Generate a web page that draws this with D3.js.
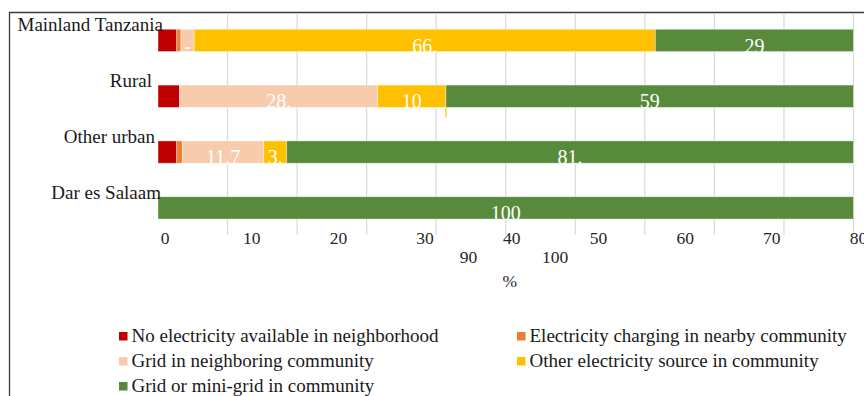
<!DOCTYPE html>
<html>
  <head>
    <meta charset="utf-8">
    <title>Electricity access by area</title>
    <script src="https://d3js.org/d3.v7.min.js"></script>
    <style>
      body { margin: 0; background: #fff; }
      svg text { font-family: "Liberation Serif", "Times New Roman", serif; }
      .cat-label { font-size: 19px; fill: #1a1a1a; }
      .tick-label { font-size: 17.5px; fill: #262626; text-anchor: middle; }
      .seg-label { font-size: 20px; fill: #fff; text-anchor: middle; }
      .legend text { font-size: 19px; fill: #1a1a1a; }
    </style>
  </head>
  <body>
    <svg width="864" height="396"></svg>
    <script>
      const categories = ["Mainland Tanzania", "Rural", "Other urban", "Dar es Salaam"];
      const seriesNames = [
        "No electricity available in neighborhood",
        "Electricity charging in nearby community",
        "Grid in neighboring community",
        "Other electricity source in community",
        "Grid or mini-grid in community"
      ];
      const noElectricity = [2.7, 3.1, 2.7, 0];
      const chargingNearby = [0.6, 0, 0.8, 0];
      const gridNeighboring = [1.9, 28.5, 11.7, 0];
      const otherSource = [66.3, 9.8, 3.3, 0];
      const gridCommunity = [28.5, 58.6, 81.5, 100];
      // labels as they show on the bars (clipped in the source)
      const segmentLabels = [
        ["", "", "", ""],
        ["", "", "", ""],
        ["-", "28.", "11.7", ""],
        ["66.", "10", "3.", ""],
        ["29", "59", "81.", "100"]
      ];
      const tickLabels = ["0", "10", "20", "30", "40", "50", "60", "70", "80", "90", "100"];
      const colors = ["#c00000", "#ed7d31", "#f8cbad", "#ffc000", "#578a3a"];

      const svg = d3.select("svg");
      const seriesValues = [noElectricity, chargingNearby, gridNeighboring, otherSource, gridCommunity];

      const rows = categories.map((c, i) => {
        const r = { category: c };
        seriesNames.forEach((s, j) => { r[s] = seriesValues[j][i]; });
        return r;
      });
      const stacked = d3.stack().keys(seriesNames)(rows);

      const x = d3.scaleLinear().domain([0, 100]).range([158, 853.5]);
      const y = d3.scaleBand().domain(categories).range([12.5, 235.8])
        .paddingInner(0.6).paddingOuter(0.3);
      const color = d3.scaleOrdinal().domain(seriesNames).range(colors);

      // frame
      svg.append("path")
        .attr("d", "M9.5,396 V12.5 H864")
        .attr("fill", "none")
        .attr("stroke", "#3a3a3a")
        .attr("stroke-width", 1.3);

      // gridlines
      svg.append("g")
        .selectAll("line")
        .data(d3.range(10, 101, 10))
        .join("line")
          .attr("x1", d => x(d)).attr("x2", d => x(d))
          .attr("y1", 13).attr("y2", 235)
          .attr("stroke", "#d9d9d9")
          .attr("stroke-width", 1.2);

      // clip each row to its bar so labels get cut like the source
      const defs = svg.append("defs");
      categories.forEach((c, i) => {
        defs.append("clipPath").attr("id", "row" + i)
          .append("rect")
            .attr("x", x(0)).attr("y", y(c))
            .attr("width", x(100) - x(0)).attr("height", y.bandwidth() + 2.5);
      });

      const layers = svg.append("g")
        .selectAll("g")
        .data(stacked)
        .join("g")
          .attr("fill", d => color(d.key));

      layers.selectAll("rect")
        .data(d => d.filter(s => s[1] - s[0] > 0))
        .join("rect")
          .attr("x", d => x(d[0]))
          .attr("y", d => y(d.data.category))
          .attr("width", d => x(d[1]) - x(d[0]))
          .attr("height", y.bandwidth())
          .attr("stroke", "#fff")
          .attr("stroke-opacity", 0.5)
          .attr("stroke-width", 0.8);

      // little yellow leader under the rural bar
      const ruralOther = stacked[3][1];
      svg.append("line")
        .attr("x1", x(ruralOther[1])).attr("x2", x(ruralOther[1]))
        .attr("y1", y("Rural") + y.bandwidth()).attr("y2", y("Rural") + y.bandwidth() + 10)
        .attr("stroke", "#ffc000").attr("stroke-width", 1.2);

      // segment labels
      stacked.forEach((layer, j) => {
        layer.forEach((s, i) => {
          const txt = segmentLabels[j][i];
          if (!txt) return;
          svg.append("text")
            .attr("class", "seg-label")
            .attr("clip-path", `url(#row${i})`)
            .attr("x", (x(s[0]) + x(s[1])) / 2)
            .attr("y", y(categories[i]) + y.bandwidth() + 1)
            .text(txt);
        });
      });

      // category labels
      const labelNudge = [6, -5, -2, 4];
      svg.append("g")
        .selectAll("text")
        .data(categories)
        .join("text")
          .attr("class", "cat-label")
          .attr("text-anchor", "end")
          .attr("x", (d, i) => x(0) - 1 + labelNudge[i])
          .attr("y", d => y(d) + 2)
          .text(d => d);

      // tick labels wrap onto two lines in the source
      const firstLine = tickLabels.slice(0, 9);
      const secondLine = tickLabels.slice(9);
      const tx = d3.scalePoint().domain(firstLine).range([165, 858.5]);
      const step = tx.step();
      const mid = (tx.range()[0] + tx.range()[1]) / 2;
      svg.append("g")
        .selectAll("text")
        .data(firstLine)
        .join("text")
          .attr("class", "tick-label")
          .attr("x", d => tx(d))
          .attr("y", 244)
          .text(d => d);
      svg.append("g")
        .selectAll("text")
        .data(secondLine)
        .join("text")
          .attr("class", "tick-label")
          .attr("x", (d, i) => mid + (i - (secondLine.length - 1) / 2) * step)
          .attr("y", 263)
          .text(d => d);
      svg.append("text")
        .attr("class", "tick-label")
        .attr("x", mid - 2)
        .attr("y", 287)
        .text("%");

      // legend
      const legend = svg.append("g").attr("class", "legend");
      const items = legend.selectAll("g")
        .data(seriesNames)
        .join("g")
          .attr("transform", (d, i) => `translate(${i % 2 ? 517 : 119}, ${342 + Math.floor(i / 2) * 25})`);
      items.append("rect")
        .attr("y", -10).attr("width", 8.5).attr("height", 8.5)
        .attr("fill", d => color(d));
      items.append("text")
        .attr("x", 12.5)
        .text(d => d);
    </script>
  </body>
</html>
